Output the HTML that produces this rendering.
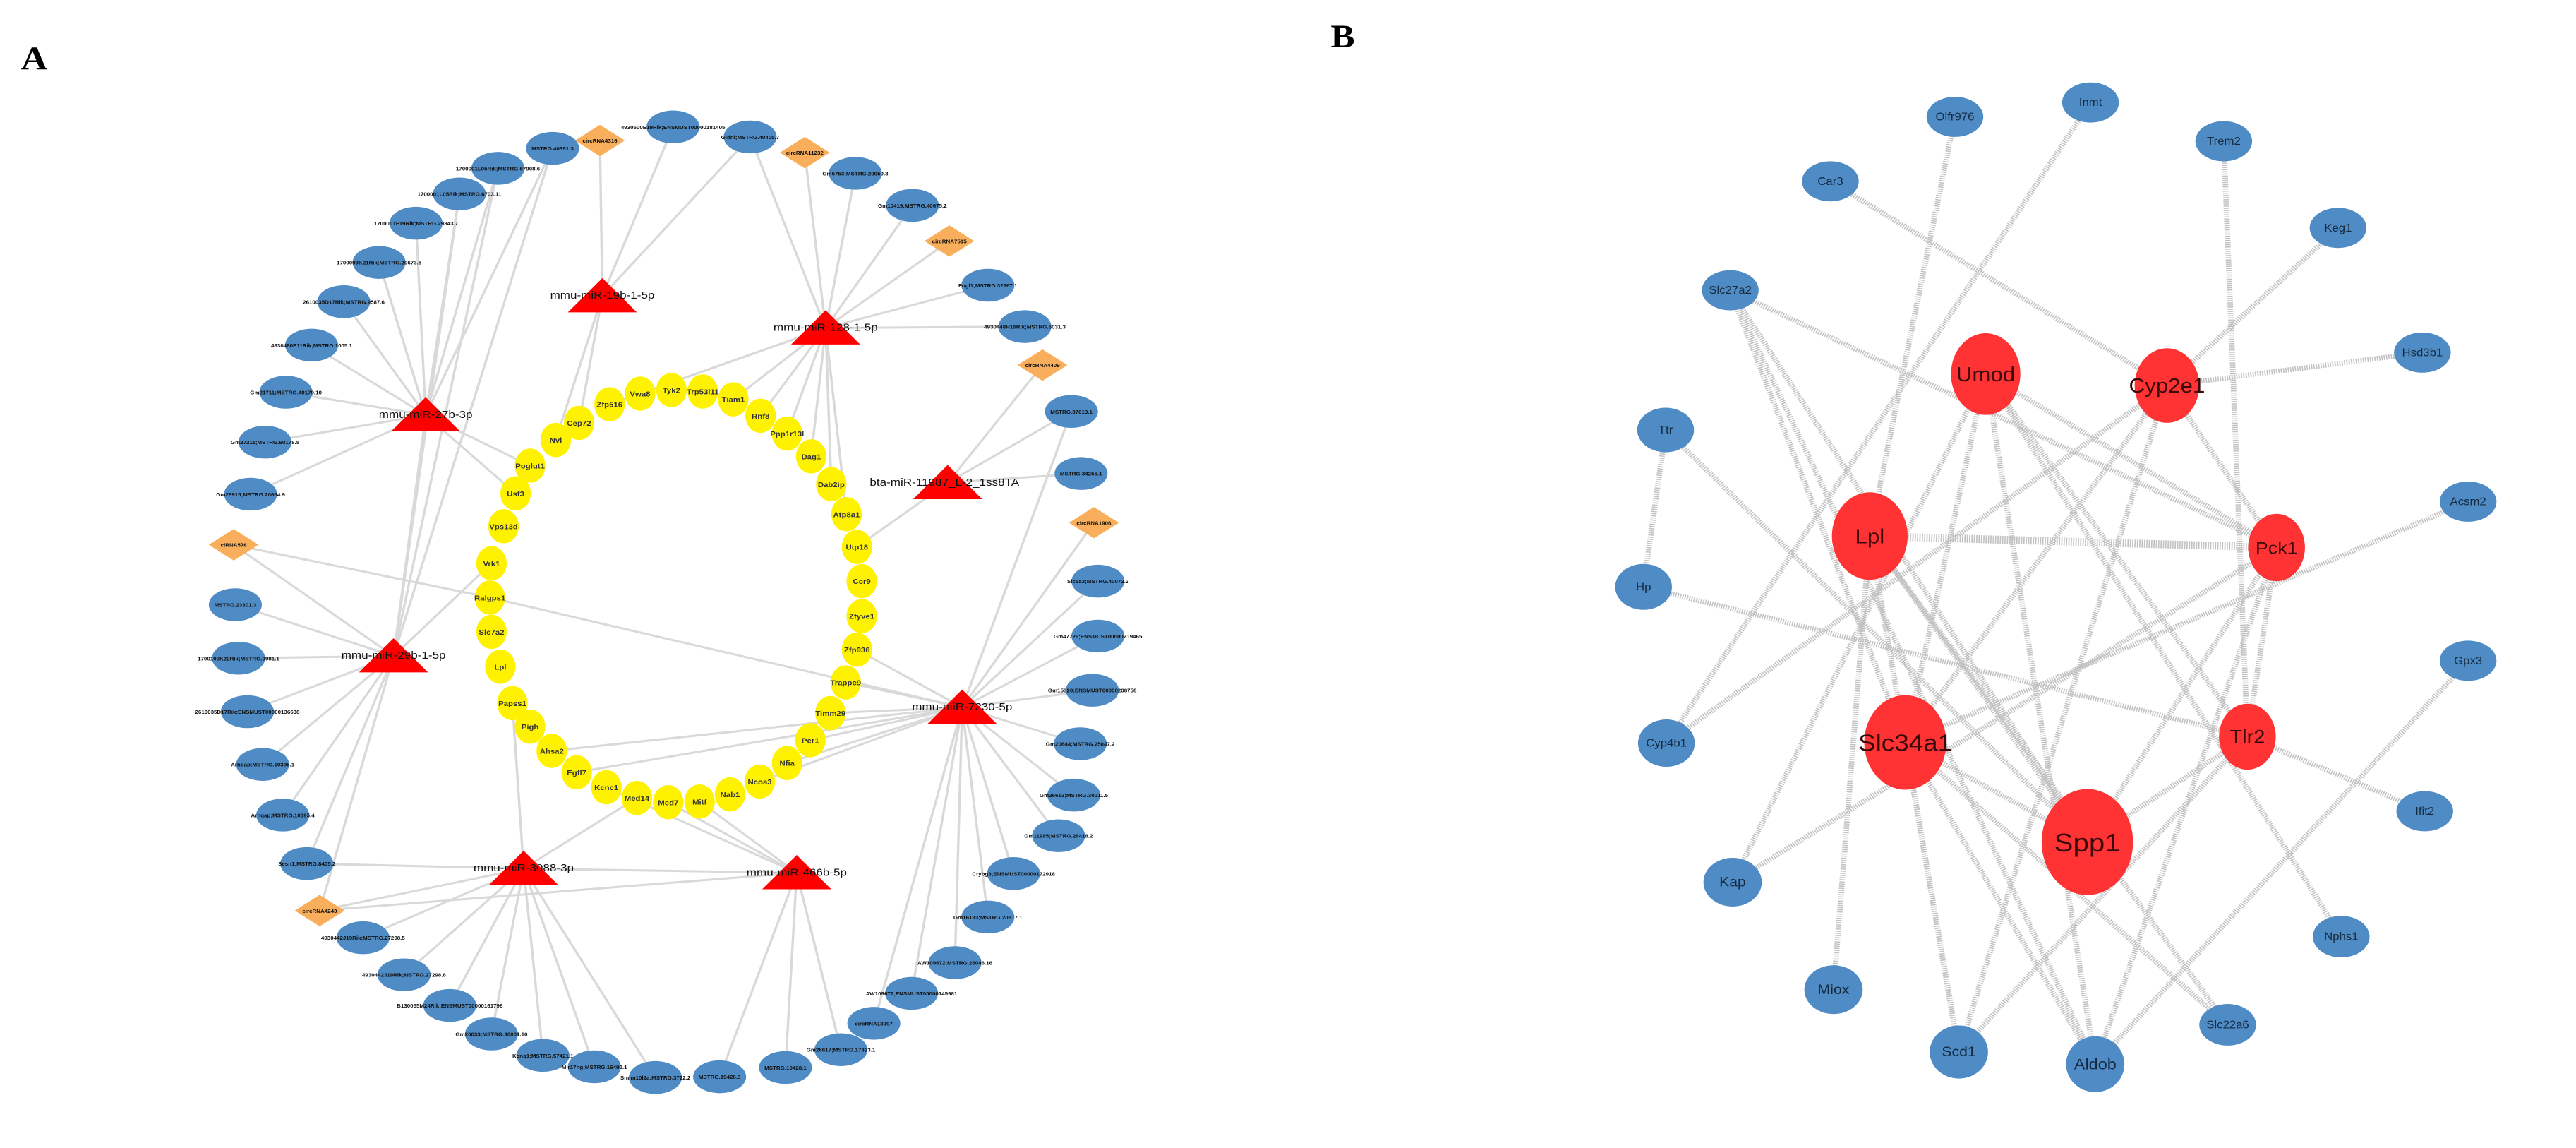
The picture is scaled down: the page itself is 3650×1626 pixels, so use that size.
<!DOCTYPE html>
<html><head><meta charset="utf-8"><style>
html,body{margin:0;padding:0;background:#fff}
svg{display:block}
.bl{fill:#4f8bc4}
.dm{fill:#f9ae5b}
.yl{fill:#fff200}
.tr{fill:#f00}
.ea line{stroke:#d9d9d9;stroke-width:3}
.eb line{stroke:#c2c2c2;stroke-width:7;stroke-dasharray:1.5 1.5}
.ta{font-family:"Liberation Sans",sans-serif;font-size:7px;fill:#111;text-anchor:middle;font-weight:bold}
.ty{font-family:"Liberation Sans",sans-serif;font-size:10px;fill:#333;text-anchor:middle;font-weight:bold}
.tt{font-family:"Liberation Sans",sans-serif;font-size:15px;fill:#111;text-anchor:middle}
.tb{font-family:"Liberation Sans",sans-serif;font-size:15px;fill:#15293f;text-anchor:middle}
.trd{font-family:"Liberation Sans",sans-serif;font-size:28px;fill:#3a0a0a;text-anchor:middle}
.hd{font-family:"Liberation Serif",serif;font-weight:bold;font-size:46px;fill:#000}
</style></head><body>
<svg width="3650" height="1626" viewBox="0 0 3650 1626" xmlns="http://www.w3.org/2000/svg">
<rect width="3650" height="1626" fill="#fff"/>
<g transform="scale(1.138,1.01)">
<text class="hd" x="26" y="97">A</text>
<g class="ea">
<line x1="750" y1="415" x2="747" y2="197"/><line x1="750" y1="415" x2="838" y2="178"/><line x1="750" y1="415" x2="934" y2="192"/><line x1="750" y1="415" x2="692" y2="617"/><line x1="750" y1="415" x2="721" y2="593"/>
<line x1="1028" y1="460" x2="1002" y2="214"/><line x1="1028" y1="460" x2="1065" y2="243"/><line x1="1028" y1="460" x2="1136" y2="288"/><line x1="1028" y1="460" x2="1182" y2="338"/><line x1="1028" y1="460" x2="1230" y2="400"/><line x1="1028" y1="460" x2="1276" y2="458"/><line x1="1028" y1="460" x2="934" y2="192"/><line x1="1028" y1="460" x2="759" y2="567"/><line x1="1028" y1="460" x2="797" y2="552"/><line x1="1028" y1="460" x2="947" y2="583"/><line x1="1028" y1="460" x2="980" y2="608"/><line x1="1028" y1="460" x2="1010" y2="640"/><line x1="1028" y1="460" x2="1035" y2="679"/><line x1="1028" y1="460" x2="1054" y2="721"/><line x1="1028" y1="460" x2="913" y2="560"/>
<line x1="530" y1="582" x2="688" y2="208"/><line x1="530" y1="582" x2="620" y2="236"/><line x1="530" y1="582" x2="572" y2="272"/><line x1="530" y1="582" x2="518" y2="313"/><line x1="530" y1="582" x2="472" y2="368"/><line x1="530" y1="582" x2="428" y2="423"/><line x1="530" y1="582" x2="388" y2="484"/><line x1="530" y1="582" x2="356" y2="550"/><line x1="530" y1="582" x2="330" y2="620"/><line x1="530" y1="582" x2="312" y2="693"/><line x1="530" y1="582" x2="660" y2="653"/><line x1="530" y1="582" x2="642" y2="692"/><line x1="530" y1="582" x2="490" y2="920"/>
<line x1="490" y1="920" x2="291" y2="764"/><line x1="490" y1="920" x2="293" y2="848"/><line x1="490" y1="920" x2="297" y2="923"/><line x1="490" y1="920" x2="308" y2="998"/><line x1="490" y1="920" x2="327" y2="1072"/><line x1="490" y1="920" x2="352" y2="1143"/><line x1="490" y1="920" x2="382" y2="1211"/><line x1="490" y1="920" x2="398" y2="1277"/><line x1="490" y1="920" x2="688" y2="208"/><line x1="490" y1="920" x2="620" y2="236"/><line x1="490" y1="920" x2="572" y2="272"/><line x1="490" y1="920" x2="612" y2="790"/>
<line x1="291" y1="764" x2="610" y2="838"/><line x1="610" y1="838" x2="1198" y2="992"/>
<line x1="1198" y1="992" x2="1088" y2="1435"/><line x1="1198" y1="992" x2="1135" y2="1393"/><line x1="1198" y1="992" x2="1189" y2="1350"/><line x1="1198" y1="992" x2="1230" y2="1286"/><line x1="1198" y1="992" x2="1262" y2="1225"/><line x1="1198" y1="992" x2="1318" y2="1172"/><line x1="1198" y1="992" x2="1337" y2="1115"/><line x1="1198" y1="992" x2="1345" y2="1043"/><line x1="1198" y1="992" x2="1360" y2="968"/><line x1="1198" y1="992" x2="1367" y2="892"/><line x1="1198" y1="992" x2="1367" y2="815"/><line x1="1198" y1="992" x2="1362" y2="733"/><line x1="1198" y1="992" x2="1334" y2="577"/><line x1="1198" y1="992" x2="1053" y2="957"/><line x1="1198" y1="992" x2="1034" y2="1000"/><line x1="1198" y1="992" x2="1009" y2="1038"/><line x1="1198" y1="992" x2="980" y2="1070"/><line x1="1198" y1="992" x2="687" y2="1053"/><line x1="1198" y1="992" x2="718" y2="1083"/><line x1="1198" y1="992" x2="1067" y2="911"/><line x1="1198" y1="992" x2="946" y2="1096"/>
<line x1="1180" y1="677" x2="1298" y2="512"/><line x1="1180" y1="677" x2="1334" y2="577"/><line x1="1180" y1="677" x2="1346" y2="664"/><line x1="1180" y1="677" x2="1067" y2="767"/>
<line x1="652" y1="1218" x2="382" y2="1211"/><line x1="652" y1="1218" x2="398" y2="1277"/><line x1="652" y1="1218" x2="452" y2="1315"/><line x1="652" y1="1218" x2="503" y2="1367"/><line x1="652" y1="1218" x2="560" y2="1410"/><line x1="652" y1="1218" x2="612" y2="1450"/><line x1="652" y1="1218" x2="676" y2="1480"/><line x1="652" y1="1218" x2="740" y2="1496"/><line x1="652" y1="1218" x2="816" y2="1511"/><line x1="652" y1="1218" x2="638" y2="986"/><line x1="652" y1="1218" x2="793" y2="1119"/><line x1="652" y1="1218" x2="992" y2="1224"/>
<line x1="992" y1="1224" x2="896" y2="1510"/><line x1="992" y1="1224" x2="978" y2="1497"/><line x1="992" y1="1224" x2="1047" y2="1472"/><line x1="992" y1="1224" x2="871" y2="1124"/><line x1="992" y1="1224" x2="832" y2="1125"/><line x1="992" y1="1224" x2="755" y2="1104"/><line x1="992" y1="1224" x2="398" y2="1277"/>
</g>
<g>
<ellipse class="bl" cx="688" cy="208" rx="33" ry="23"/><text class="ta" x="688" y="211">MSTRG.40391.3</text>
<ellipse class="bl" cx="620" cy="236" rx="33" ry="23"/><text class="ta" x="620" y="239">1700001L05Rik;MSTRG.67908.6</text>
<ellipse class="bl" cx="572" cy="272" rx="33" ry="23"/><text class="ta" x="572" y="275">1700001L05Rik;MSTRG.6703.11</text>
<ellipse class="bl" cx="518" cy="313" rx="33" ry="23"/><text class="ta" x="518" y="316">1700001F19Rik;MSTRG.29843.7</text>
<ellipse class="bl" cx="472" cy="368" rx="33" ry="23"/><text class="ta" x="472" y="371">1700093K21Rik;MSTRG.20673.8</text>
<ellipse class="bl" cx="428" cy="423" rx="33" ry="23"/><text class="ta" x="428" y="426">2610035D17Rik;MSTRG.9587.6</text>
<ellipse class="bl" cx="388" cy="484" rx="33" ry="23"/><text class="ta" x="388" y="487">4930480E11Rik;MSTRG.1005.1</text>
<ellipse class="bl" cx="356" cy="550" rx="33" ry="23"/><text class="ta" x="356" y="553">Gm21711;MSTRG.40179.10</text>
<ellipse class="bl" cx="330" cy="620" rx="33" ry="23"/><text class="ta" x="330" y="623">Gm27211;MSTRG.60178.5</text>
<ellipse class="bl" cx="312" cy="693" rx="33" ry="23"/><text class="ta" x="312" y="696">Gm26915;MSTRG.20654.9</text>
<ellipse class="bl" cx="293" cy="848" rx="33" ry="23"/><text class="ta" x="293" y="851">MSTRG.23301.3</text>
<ellipse class="bl" cx="297" cy="923" rx="33" ry="23"/><text class="ta" x="297" y="926">1700109K22Rik;MSTRG.9981.1</text>
<ellipse class="bl" cx="308" cy="998" rx="33" ry="23"/><text class="ta" x="308" y="1001">2610035D17Rik;ENSMUST00000136638</text>
<ellipse class="bl" cx="327" cy="1072" rx="33" ry="23"/><text class="ta" x="327" y="1075">Arhgap;MSTRG.10395.1</text>
<ellipse class="bl" cx="352" cy="1143" rx="33" ry="23"/><text class="ta" x="352" y="1146">Arhgap;MSTRG.10395.4</text>
<ellipse class="bl" cx="382" cy="1211" rx="33" ry="23"/><text class="ta" x="382" y="1214">Sesn1;MSTRG.8405.2</text>
<ellipse class="bl" cx="452" cy="1315" rx="33" ry="23"/><text class="ta" x="452" y="1318">4930442J19Rik;MSTRG.27298.5</text>
<ellipse class="bl" cx="503" cy="1367" rx="33" ry="23"/><text class="ta" x="503" y="1370">4930442J19Rik;MSTRG.27298.6</text>
<ellipse class="bl" cx="560" cy="1410" rx="33" ry="23"/><text class="ta" x="560" y="1413">B130055M24Rik;ENSMUST00000161796</text>
<ellipse class="bl" cx="612" cy="1450" rx="33" ry="23"/><text class="ta" x="612" y="1453">Gm26633;MSTRG.30001.10</text>
<ellipse class="bl" cx="676" cy="1480" rx="33" ry="23"/><text class="ta" x="676" y="1483">Kcnq1;MSTRG.57421.1</text>
<ellipse class="bl" cx="740" cy="1496" rx="33" ry="23"/><text class="ta" x="740" y="1499">Mir17hg;MSTRG.16490.1</text>
<ellipse class="bl" cx="816" cy="1511" rx="33" ry="23"/><text class="ta" x="816" y="1514">Smim10l2a;MSTRG.3722.2</text>
<ellipse class="bl" cx="896" cy="1510" rx="33" ry="23"/><text class="ta" x="896" y="1513">MSTRG.19426.3</text>
<ellipse class="bl" cx="978" cy="1497" rx="33" ry="23"/><text class="ta" x="978" y="1500">MSTRG.19428.1</text>
<ellipse class="bl" cx="1047" cy="1472" rx="33" ry="23"/><text class="ta" x="1047" y="1475">Gm26617;MSTRG.17323.1</text>
<ellipse class="bl" cx="1088" cy="1435" rx="33" ry="23"/><text class="ta" x="1088" y="1438">circRNA13997</text>
<ellipse class="bl" cx="1135" cy="1393" rx="33" ry="23"/><text class="ta" x="1135" y="1396">AW109672;ENSMUST00000145981</text>
<ellipse class="bl" cx="1189" cy="1350" rx="33" ry="23"/><text class="ta" x="1189" y="1353">AW109672;MSTRG.26046.16</text>
<ellipse class="bl" cx="1230" cy="1286" rx="33" ry="23"/><text class="ta" x="1230" y="1289">Gm16183;MSTRG.20617.1</text>
<ellipse class="bl" cx="1262" cy="1225" rx="33" ry="23"/><text class="ta" x="1262" y="1228">Crybg3;ENSMUST00000172918</text>
<ellipse class="bl" cx="1318" cy="1172" rx="33" ry="23"/><text class="ta" x="1318" y="1175">Gm11985;MSTRG.28418.2</text>
<ellipse class="bl" cx="1337" cy="1115" rx="33" ry="23"/><text class="ta" x="1337" y="1118">Gm26613;MSTRG.30011.5</text>
<ellipse class="bl" cx="1345" cy="1043" rx="33" ry="23"/><text class="ta" x="1345" y="1046">Gm20644;MSTRG.25047.2</text>
<ellipse class="bl" cx="1360" cy="968" rx="33" ry="23"/><text class="ta" x="1360" y="971">Gm15320;ENSMUST00000208758</text>
<ellipse class="bl" cx="1367" cy="892" rx="33" ry="23"/><text class="ta" x="1367" y="895">Gm47729;ENSMUST00000219465</text>
<ellipse class="bl" cx="1367" cy="815" rx="33" ry="23"/><text class="ta" x="1367" y="818">Slc5a3;MSTRG.40072.2</text>
<ellipse class="bl" cx="1346" cy="664" rx="33" ry="23"/><text class="ta" x="1346" y="667">MSTRG.34256.1</text>
<ellipse class="bl" cx="1334" cy="577" rx="33" ry="23"/><text class="ta" x="1334" y="580">MSTRG.37613.1</text>
<ellipse class="bl" cx="1276" cy="458" rx="33" ry="23"/><text class="ta" x="1276" y="461">4930448H16Rik;MSTRG.6031.3</text>
<ellipse class="bl" cx="1230" cy="400" rx="33" ry="23"/><text class="ta" x="1230" y="403">Fogl1;MSTRG.32267.1</text>
<ellipse class="bl" cx="1136" cy="288" rx="33" ry="23"/><text class="ta" x="1136" y="291">Gm10419;MSTRG.40675.2</text>
<ellipse class="bl" cx="1065" cy="243" rx="33" ry="23"/><text class="ta" x="1065" y="246">Gm6753;MSTRG.20050.3</text>
<ellipse class="bl" cx="934" cy="192" rx="33" ry="23"/><text class="ta" x="934" y="195">Gldnl;MSTRG.40405.7</text>
<ellipse class="bl" cx="838" cy="178" rx="33" ry="23"/><text class="ta" x="838" y="181">4930500E19Rik;ENSMUST00000181405</text>
<polygon class="dm" points="291,742 322,764 291,786 260,764"/><text class="ta" x="291" y="767">ciRNA576</text>
<polygon class="dm" points="398,1255 429,1277 398,1299 367,1277"/><text class="ta" x="398" y="1280">circRNA4243</text>
<polygon class="dm" points="1362,711 1393,733 1362,755 1331,733"/><text class="ta" x="1362" y="736">circRNA1906</text>
<polygon class="dm" points="1298,490 1329,512 1298,534 1267,512"/><text class="ta" x="1298" y="515">circRNA4409</text>
<polygon class="dm" points="1182,316 1213,338 1182,360 1151,338"/><text class="ta" x="1182" y="341">circRNA7515</text>
<polygon class="dm" points="1002,192 1033,214 1002,236 971,214"/><text class="ta" x="1002" y="217">circRNA11232</text>
<polygon class="dm" points="747,175 778,197 747,219 716,197"/><text class="ta" x="747" y="200">circRNA4316</text>
</g>
<g>
<ellipse class="yl" cx="836" cy="547" rx="19" ry="24"/><text class="ty" x="836" y="551">Tyk2</text>
<ellipse class="yl" cx="875" cy="549" rx="19" ry="24"/><text class="ty" x="875" y="553">Trp53i11</text>
<ellipse class="yl" cx="913" cy="560" rx="19" ry="24"/><text class="ty" x="913" y="564">Tiam1</text>
<ellipse class="yl" cx="947" cy="583" rx="19" ry="24"/><text class="ty" x="947" y="587">Rnf8</text>
<ellipse class="yl" cx="980" cy="608" rx="19" ry="24"/><text class="ty" x="980" y="612">Ppp1r13l</text>
<ellipse class="yl" cx="1010" cy="640" rx="19" ry="24"/><text class="ty" x="1010" y="644">Dag1</text>
<ellipse class="yl" cx="1035" cy="679" rx="19" ry="24"/><text class="ty" x="1035" y="683">Dab2ip</text>
<ellipse class="yl" cx="1054" cy="721" rx="19" ry="24"/><text class="ty" x="1054" y="725">Atp8a1</text>
<ellipse class="yl" cx="1067" cy="767" rx="19" ry="24"/><text class="ty" x="1067" y="771">Utp18</text>
<ellipse class="yl" cx="1073" cy="815" rx="19" ry="24"/><text class="ty" x="1073" y="819">Ccr9</text>
<ellipse class="yl" cx="1073" cy="864" rx="19" ry="24"/><text class="ty" x="1073" y="868">Zfyve1</text>
<ellipse class="yl" cx="1067" cy="911" rx="19" ry="24"/><text class="ty" x="1067" y="915">Zfp936</text>
<ellipse class="yl" cx="1053" cy="957" rx="19" ry="24"/><text class="ty" x="1053" y="961">Trappc9</text>
<ellipse class="yl" cx="1034" cy="1000" rx="19" ry="24"/><text class="ty" x="1034" y="1004">Timm29</text>
<ellipse class="yl" cx="1009" cy="1038" rx="19" ry="24"/><text class="ty" x="1009" y="1042">Per1</text>
<ellipse class="yl" cx="980" cy="1070" rx="19" ry="24"/><text class="ty" x="980" y="1074">Nfia</text>
<ellipse class="yl" cx="946" cy="1096" rx="19" ry="24"/><text class="ty" x="946" y="1100">Ncoa3</text>
<ellipse class="yl" cx="909" cy="1114" rx="19" ry="24"/><text class="ty" x="909" y="1118">Nab1</text>
<ellipse class="yl" cx="871" cy="1124" rx="19" ry="24"/><text class="ty" x="871" y="1128">Mitf</text>
<ellipse class="yl" cx="832" cy="1125" rx="19" ry="24"/><text class="ty" x="832" y="1129">Med7</text>
<ellipse class="yl" cx="793" cy="1119" rx="19" ry="24"/><text class="ty" x="793" y="1123">Med14</text>
<ellipse class="yl" cx="755" cy="1104" rx="19" ry="24"/><text class="ty" x="755" y="1108">Kcnc1</text>
<ellipse class="yl" cx="718" cy="1083" rx="19" ry="24"/><text class="ty" x="718" y="1087">Egfl7</text>
<ellipse class="yl" cx="687" cy="1053" rx="19" ry="24"/><text class="ty" x="687" y="1057">Ahsa2</text>
<ellipse class="yl" cx="660" cy="1019" rx="19" ry="24"/><text class="ty" x="660" y="1023">Pigh</text>
<ellipse class="yl" cx="638" cy="986" rx="19" ry="24"/><text class="ty" x="638" y="990">Papss1</text>
<ellipse class="yl" cx="623" cy="935" rx="19" ry="24"/><text class="ty" x="623" y="939">Lpl</text>
<ellipse class="yl" cx="612" cy="886" rx="19" ry="24"/><text class="ty" x="612" y="890">Slc7a2</text>
<ellipse class="yl" cx="610" cy="838" rx="19" ry="24"/><text class="ty" x="610" y="842">Ralgps1</text>
<ellipse class="yl" cx="612" cy="790" rx="19" ry="24"/><text class="ty" x="612" y="794">Vrk1</text>
<ellipse class="yl" cx="627" cy="738" rx="19" ry="24"/><text class="ty" x="627" y="742">Vps13d</text>
<ellipse class="yl" cx="642" cy="692" rx="19" ry="24"/><text class="ty" x="642" y="696">Usf3</text>
<ellipse class="yl" cx="660" cy="653" rx="19" ry="24"/><text class="ty" x="660" y="657">Poglut1</text>
<ellipse class="yl" cx="692" cy="617" rx="19" ry="24"/><text class="ty" x="692" y="621">Nvl</text>
<ellipse class="yl" cx="721" cy="593" rx="19" ry="24"/><text class="ty" x="721" y="597">Cep72</text>
<ellipse class="yl" cx="759" cy="567" rx="19" ry="24"/><text class="ty" x="759" y="571">Zfp516</text>
<ellipse class="yl" cx="797" cy="552" rx="19" ry="24"/><text class="ty" x="797" y="556">Vwa8</text>
</g>
<g>
<polygon class="tr" points="750,390 707,438 793,438"/><text class="tt" x="750" y="419">mmu-miR-19b-1-5p</text>
<polygon class="tr" points="1028,435 985,483 1071,483"/><text class="tt" x="1028" y="464">mmu-miR-128-1-5p</text>
<polygon class="tr" points="530,557 487,605 573,605"/><text class="tt" x="530" y="586">mmu-miR-27b-3p</text>
<polygon class="tr" points="1180,652 1137,700 1223,700"/><text class="tt" x="1176" y="681">bta-miR-11987_L-2_1ss8TA</text>
<polygon class="tr" points="490,895 447,943 533,943"/><text class="tt" x="490" y="924">mmu-miR-29b-1-5p</text>
<polygon class="tr" points="1198,967 1155,1015 1241,1015"/><text class="tt" x="1198" y="996">mmu-miR-7230-5p</text>
<polygon class="tr" points="652,1193 609,1241 695,1241"/><text class="tt" x="652" y="1222">mmu-miR-3088-3p</text>
<polygon class="tr" points="992,1199 949,1247 1035,1247"/><text class="tt" x="992" y="1228">mmu-miR-466b-5p</text>
</g>
</g>
<g transform="translate(1825,0) scale(1.117,1.015)">
<text class="hd" x="54" y="66">B</text>
<g class="eb">
<line x1="688" y1="253" x2="1115" y2="538"/>
<line x1="846" y1="163" x2="738" y2="748"/>
<line x1="1018" y1="143" x2="480" y2="1037"/>
<line x1="1187" y1="197" x2="1217" y2="1028"/>
<line x1="1332" y1="318" x2="1115" y2="538"/>
<line x1="1439" y1="492" x2="1115" y2="538"/>
<line x1="561" y1="405" x2="1254" y2="764"/>
<line x1="561" y1="405" x2="783" y2="1036"/>
<line x1="561" y1="405" x2="1014" y2="1175"/>
<line x1="561" y1="405" x2="1024" y2="1485"/>
<line x1="479" y1="600" x2="451" y2="819"/>
<line x1="479" y1="600" x2="1014" y2="1175"/>
<line x1="451" y1="819" x2="1217" y2="1028"/>
<line x1="1497" y1="700" x2="783" y2="1036"/>
<line x1="1497" y1="922" x2="1024" y2="1485"/>
<line x1="480" y1="1037" x2="1115" y2="538"/>
<line x1="1442" y1="1132" x2="1217" y2="1028"/>
<line x1="564" y1="1231" x2="885" y2="522"/>
<line x1="564" y1="1231" x2="1254" y2="764"/>
<line x1="1336" y1="1307" x2="885" y2="522"/>
<line x1="692" y1="1381" x2="738" y2="748"/>
<line x1="1192" y1="1430" x2="738" y2="748"/>
<line x1="1192" y1="1430" x2="783" y2="1036"/>
<line x1="851" y1="1468" x2="738" y2="748"/>
<line x1="851" y1="1468" x2="1217" y2="1028"/>
<line x1="851" y1="1468" x2="783" y2="1036"/>
<line x1="851" y1="1468" x2="1115" y2="538"/>
<line x1="1024" y1="1485" x2="783" y2="1036"/>
<line x1="1024" y1="1485" x2="885" y2="522"/>
<line x1="1024" y1="1485" x2="1254" y2="764"/>
<line x1="738" y1="748" x2="1254" y2="764" style="stroke-width:11"/>
<line x1="738" y1="748" x2="1014" y2="1175"/>
<line x1="885" y1="522" x2="783" y2="1036"/>
<line x1="885" y1="522" x2="1254" y2="764"/>
<line x1="885" y1="522" x2="1217" y2="1028"/>
<line x1="1115" y1="538" x2="1254" y2="764"/>
<line x1="1115" y1="538" x2="783" y2="1036"/>
<line x1="783" y1="1036" x2="1014" y2="1175"/>
<line x1="1014" y1="1175" x2="1217" y2="1028"/>
<line x1="1014" y1="1175" x2="1254" y2="764"/>
<line x1="1217" y1="1028" x2="1254" y2="764"/>
</g>
<g>
<ellipse class="bl" cx="846" cy="163" rx="36" ry="28"/><text class="tb" x="846" y="168">Olfr976</text>
<ellipse class="bl" cx="1018" cy="143" rx="36" ry="28"/><text class="tb" x="1018" y="148">Inmt</text>
<ellipse class="bl" cx="1187" cy="197" rx="36" ry="28"/><text class="tb" x="1187" y="202">Trem2</text>
<ellipse class="bl" cx="688" cy="253" rx="36" ry="28"/><text class="tb" x="688" y="258">Car3</text>
<ellipse class="bl" cx="1332" cy="318" rx="36" ry="28"/><text class="tb" x="1332" y="323">Keg1</text>
<ellipse class="bl" cx="561" cy="405" rx="36" ry="28"/><text class="tb" x="561" y="410">Slc27a2</text>
<ellipse class="bl" cx="1439" cy="492" rx="36" ry="28"/><text class="tb" x="1439" y="497">Hsd3b1</text>
<ellipse class="bl" cx="479" cy="600" rx="36" ry="31"/><text class="tb" x="479" y="605">Ttr</text>
<ellipse class="bl" cx="1497" cy="700" rx="36" ry="28"/><text class="tb" x="1497" y="705">Acsm2</text>
<ellipse class="bl" cx="451" cy="819" rx="36" ry="32"/><text class="tb" x="451" y="824">Hp</text>
<ellipse class="bl" cx="1497" cy="922" rx="36" ry="28"/><text class="tb" x="1497" y="927">Gpx3</text>
<ellipse class="bl" cx="480" cy="1037" rx="36" ry="33"/><text class="tb" x="480" y="1042">Cyp4b1</text>
<ellipse class="bl" cx="1442" cy="1132" rx="36" ry="28"/><text class="tb" x="1442" y="1137">Ifit2</text>
<ellipse class="bl" cx="564" cy="1231" rx="37" ry="34"/><text class="tb" x="564" y="1237" style="font-size:19px">Kap</text>
<ellipse class="bl" cx="1336" cy="1307" rx="36" ry="29"/><text class="tb" x="1336" y="1312">Nphs1</text>
<ellipse class="bl" cx="692" cy="1381" rx="37" ry="34"/><text class="tb" x="692" y="1387" style="font-size:19px">Miox</text>
<ellipse class="bl" cx="1192" cy="1430" rx="36" ry="29"/><text class="tb" x="1192" y="1435">Slc22a6</text>
<ellipse class="bl" cx="851" cy="1468" rx="37" ry="37"/><text class="tb" x="851" y="1474" style="font-size:19px">Scd1</text>
<ellipse class="bl" cx="1024" cy="1485" rx="37" ry="39"/><text class="tb" x="1024" y="1492" style="font-size:21px">Aldob</text>
<ellipse class="tr" cx="885" cy="522" rx="44" ry="57" style="fill:#f33"/><text class="trd" x="885" y="532">Umod</text>
<ellipse class="tr" cx="1115" cy="538" rx="41" ry="52" style="fill:#f33"/><text class="trd" x="1115" y="548">Cyp2e1</text>
<ellipse class="tr" cx="738" cy="748" rx="48" ry="61" style="fill:#f33"/><text class="trd" x="738" y="758">Lpl</text>
<ellipse class="tr" cx="1254" cy="764" rx="36" ry="47" style="fill:#f33"/><text class="trd" x="1254" y="773" style="font-size:24px">Pck1</text>
<ellipse class="tr" cx="783" cy="1036" rx="52" ry="66" style="fill:#f33"/><text class="trd" x="783" y="1048" style="font-size:33px">Slc34a1</text>
<ellipse class="tr" cx="1217" cy="1028" rx="36" ry="46" style="fill:#f33"/><text class="trd" x="1217" y="1037" style="font-size:26px">Tlr2</text>
<ellipse class="tr" cx="1014" cy="1175" rx="58" ry="74" style="fill:#f33"/><text class="trd" x="1014" y="1188" style="font-size:36px">Spp1</text>
</g>
</g>
</svg>
</body></html>
